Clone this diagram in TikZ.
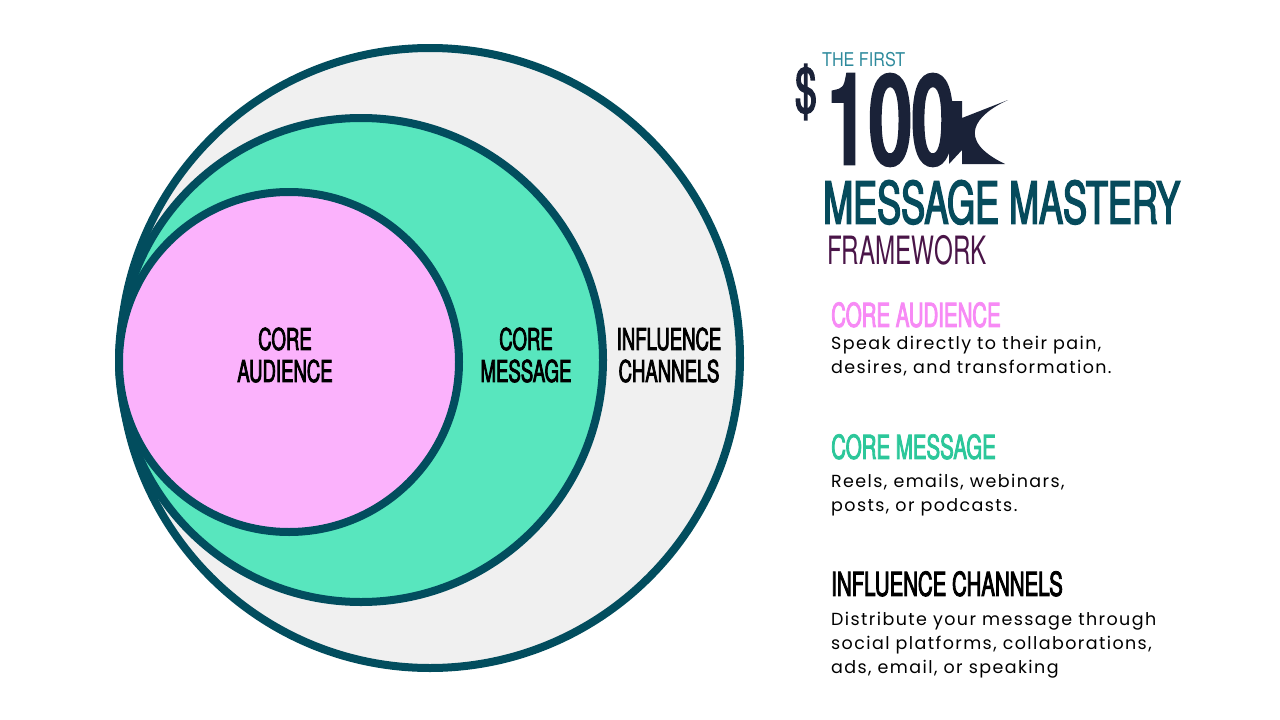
\documentclass[tikz,border=0pt]{standalone}
\usepackage{fontspec}
\setmainfont[LetterSpace=8]{Poppins}
\newfontfamily\cond[FakeStretch=0.62]{TeX Gyre Heros}
\newfontfamily\condw[FakeStretch=0.85]{TeX Gyre Heros}
\newfontfamily\condb[FakeStretch=0.62,FakeBold=2.5]{TeX Gyre Heros}
\newfontfamily\condbb[FakeStretch=0.62,FakeBold=4]{TeX Gyre Heros}
\definecolor{ring}{HTML}{024D5E}
\definecolor{gray}{HTML}{F0F0F0}
\definecolor{mint}{HTML}{58E6BE}
\definecolor{pinkc}{HTML}{FBB2FC}
\definecolor{pinkt}{HTML}{F78AF5}
\definecolor{mintt}{HTML}{2CC79A}
\definecolor{teal}{HTML}{064B5C}
\definecolor{purp}{HTML}{4A1548}
\definecolor{navy}{HTML}{1A2238}
\definecolor{lteal}{HTML}{2E8A9C}
\begin{document}
\begin{tikzpicture}[x=1pt,y=-1pt,
  circ/.style={draw=ring,line width=8pt},
  clabel/.style={font=\condb\fontsize{30}{32}\selectfont,align=center,text=black},
  head/.style={anchor=north west,inner sep=0pt,font=\condb\fontsize{33}{33}\selectfont},
  body/.style={anchor=north west,inner sep=0pt,align=left,font=\fontsize{17.5}{24}\selectfont,text=black}]
\useasboundingbox (0,0) rectangle (1280,720);
\filldraw[circ,fill=gray] (430,358) circle (310);
\filldraw[circ,fill=mint] (361,360) circle (242);
\filldraw[circ,fill=pinkc] (289,362) circle (170);
\node[clabel] (ca) at (285,355) {CORE\\AUDIENCE};
\node[clabel] (cm) at (526,355) {CORE\\MESSAGE};
\node[clabel] (ic) at (669,355) {INFLUENCE\\CHANNELS};
\node[anchor=base west,inner sep=0pt,text=lteal,font=\condw\fontsize{19}{19}\selectfont] (tf) at (822,66) {THE FIRST};
\node[anchor=base west,inner sep=0pt,text=navy,font=\condb\fontsize{62}{62}\selectfont] (dl) at (795,112) {\$};
\node[anchor=base west,inner sep=0pt,text height=90pt,text depth=0pt,text=navy,font=\condbb\fontsize{124}{124}\selectfont] (hk) at (826,163) {100};
\fill[navy] (949,101) -- (962,101) -- (962,118) -- (1008,100) .. controls (975,115) and (955,140) .. (1005,164) -- (962,164) -- (962,150) -- (949,164) -- cycle;
\node[anchor=north west,inner sep=0pt,text=teal,font=\condb\fontsize{58}{58}\selectfont] (mm) at (823,180) {MESSAGE MASTERY};
\node[anchor=north west,inner sep=0pt,text=purp,font=\cond\fontsize{39}{39}\selectfont] (fw) at (827,235) {FRAMEWORK};
\node[head,text=pinkt] (h1) at (831,302) {CORE AUDIENCE};
\node[body] (b1) at (831,336) {Speak directly to their pain,\\desires, and transformation.};
\node[head,text=mintt] (h2) at (831,434) {CORE MESSAGE};
\node[body] (b2) at (831,474) {Reels, emails, webinars,\\posts, or podcasts.};
\node[head,text=black] (h3) at (831,571) {INFLUENCE CHANNELS};
\node[body] (b3) at (831,612) {Distribute your message through\\social platforms, collaborations,\\ads, email, or speaking};
\end{tikzpicture}
\end{document}
